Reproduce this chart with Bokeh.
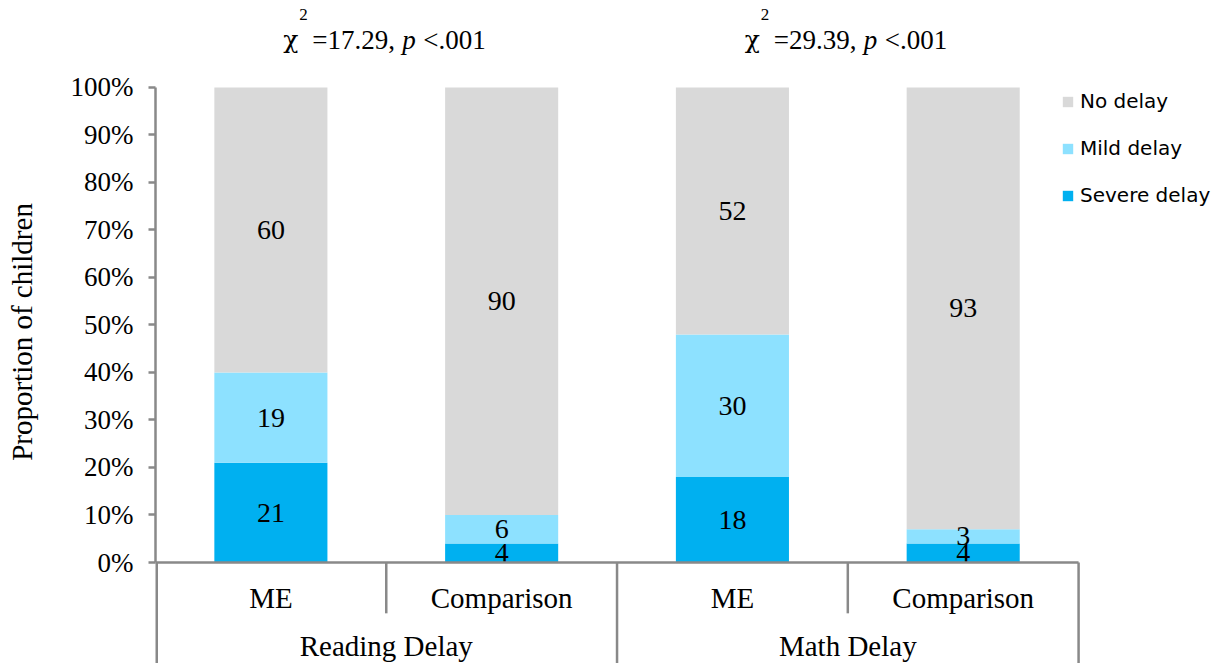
import numpy as np
from bokeh.plotting import figure
from bokeh.models import (Range1d, FixedTicker, CustomJSTickFormatter, ColumnDataSource,
                          Legend, LegendItem)
from bokeh.embed import file_html
from bokeh.resources import INLINE
from bokeh.core.properties import value

# ---------------- data ----------------
groups = ["Reading Delay", "Math Delay"]
subgroups = ["ME", "Comparison"]
severe = [21, 4, 18, 4]
mild = [19, 6, 30, 3]
no_delay = [60, 90, 52, 93]
series_names = ["Severe delay", "Mild delay", "No delay"]
series_colors = ["#00B0F0", "#8DE1FF", "#D9D9D9"]
chi_values = ["17.29", "29.39"]
p_text = "<.001"
y_ticks = [0, 10, 20, 30, 40, 50, 60, 70, 80, 90, 100]

SERIF = "Liberation Serif"
SANS = "DejaVu Sans"
AXIS_COLOR = "#898989"
LW = 2.5

Y_BOTTOM = -21.26
Y_TOP = 118.3

n_sub = len(subgroups)
n_bars = len(groups) * n_sub
centers = np.arange(n_bars) + 0.5
sub_labels = [s for g in groups for s in subgroups]
group_centers = [(i + 0.5) * n_sub for i in range(len(groups))]

src = ColumnDataSource(dict(
    x=centers,
    severe=severe,
    mild=mild,
    no_delay=no_delay,
))

p = figure(width=1214, height=663, output_backend="svg", toolbar_location=None,
           x_range=Range1d(0, 4.589), y_range=Range1d(Y_BOTTOM, Y_TOP),
           x_axis_location=None, y_axis_location="left",
           min_border_left=155, min_border_right=0, min_border_top=0, min_border_bottom=0)
p.outline_line_color = None
p.grid.visible = False
p.background_fill_color = "white"
p.border_fill_color = "white"

# y axis
ya = p.yaxis[0]
ya.bounds = (0, 100)
ya.ticker = FixedTicker(ticks=y_ticks)
ya.formatter = CustomJSTickFormatter(code="return tick + '%';")
ya.axis_line_color = AXIS_COLOR
ya.axis_line_width = LW
ya.major_tick_line_color = AXIS_COLOR
ya.major_tick_line_width = LW
ya.major_tick_in = 0
ya.major_tick_out = 7
ya.minor_tick_line_color = None
ya.major_label_text_font = SERIF
ya.major_label_text_font_size = "27px"
ya.major_label_text_color = "black"
ya.major_label_standoff = 15
ya.axis_label = "Proportion of children"
ya.axis_label_text_font = SERIF
ya.axis_label_text_font_size = "29px"
ya.axis_label_text_font_style = "normal"
ya.axis_label_text_color = "black"
ya.axis_label_standoff = 30

# stacked bars
renderers = p.vbar_stack(["severe", "mild", "no_delay"], x="x", width=0.49, source=src,
                         color=series_colors, line_color=None)

# value labels
cum0 = np.zeros(n_bars)
lx, ly, lt = [], [], []
for vals in (severe, mild, no_delay):
    v = np.array(vals, dtype=float)
    for i in range(n_bars):
        lx.append(centers[i])
        ly.append(cum0[i] + v[i] / 2)
        lt.append(str(vals[i]))
    cum0 = cum0 + v
p.text(x=lx, y=ly, text=lt, text_font=value(SERIF), text_font_size="28px",
       text_align="center", text_baseline="middle", text_color="black")

# category axis lines (baseline and separators)
p.segment(x0=[0], y0=[0], x1=[n_bars], y1=[0], line_color=AXIS_COLOR, line_width=LW)
short_x = [i * n_sub + j for i in range(len(groups)) for j in range(1, n_sub)]
long_x = [i * n_sub for i in range(len(groups) + 1)]
p.segment(x0=short_x, y0=[0] * len(short_x), x1=short_x, y1=[-10.7] * len(short_x),
          line_color=AXIS_COLOR, line_width=LW)
p.segment(x0=long_x, y0=[0] * len(long_x), x1=long_x, y1=[Y_BOTTOM] * len(long_x),
          line_color=AXIS_COLOR, line_width=[2 * LW] + [LW] * (len(long_x) - 1))

# category labels
p.text(x=centers, y=[-7.4] * n_bars, text=sub_labels, text_font=value(SERIF),
       text_font_size="29px", text_align="center", text_baseline="middle", text_color="black")
p.text(x=group_centers, y=[-17.6] * len(groups), text=groups, text_font=value(SERIF),
       text_font_size="29px", text_align="center", text_baseline="middle", text_color="black")

# chi-square annotations (above the bars)
ng = len(groups)
p.text(x=group_centers, y=[110.0] * ng, text=["χ"] * ng, x_offset=-103,
       text_font=value("DejaVu Serif"), text_font_size="25px", text_align="left",
       text_baseline="middle", text_color="black")
p.text(x=group_centers, y=[115.4] * ng, text=["2"] * ng, x_offset=-87,
       text_font=value(SERIF), text_font_size="17px", text_align="left",
       text_baseline="middle", text_color="black")
p.text(x=group_centers, y=[109.9] * ng, text=["=" + c + "," for c in chi_values], x_offset=-74,
       text_font=value(SERIF), text_font_size="27px", text_align="left",
       text_baseline="middle", text_color="black")
p.text(x=group_centers, y=[109.9] * ng, text=["p"] * ng, x_offset=16,
       text_font=value(SERIF), text_font_size="27px", text_font_style="italic",
       text_align="left", text_baseline="middle", text_color="black")
p.text(x=group_centers, y=[109.9] * ng, text=[p_text] * ng, x_offset=37,
       text_font=value(SERIF), text_font_size="27px", text_align="left",
       text_baseline="middle", text_color="black")

# legend
items = [LegendItem(label=name, renderers=[r]) for name, r in zip(series_names, renderers)][::-1]
legend = Legend(items=items, location=(906, 456), padding=0, margin=0,
                border_line_color=None, background_fill_alpha=0,
                glyph_width=13, glyph_height=13, label_height=24, spacing=23,
                label_standoff=6, label_text_font=SANS, label_text_font_size="20px",
                label_text_color="black")
p.add_layout(legend)

open("out.html", "w").write(file_html(p, INLINE))
